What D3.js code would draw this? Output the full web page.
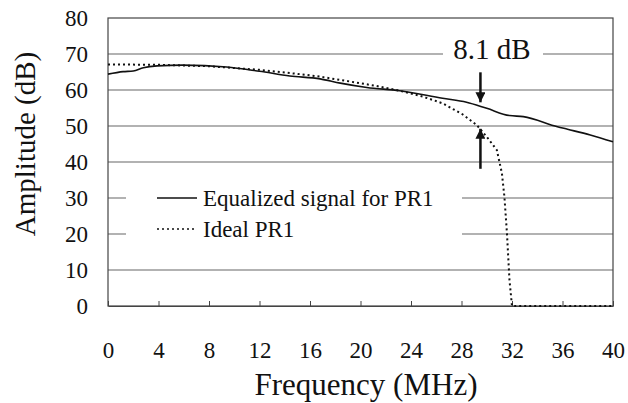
<!DOCTYPE html>
<html>
<head>
<meta charset="utf-8">
<script src="https://cdn.jsdelivr.net/npm/d3@7"></script>
<style>
  body { margin: 0; background: #fff; }
</style>
</head>
<body>
<div id="chart"></div>
<script>
// frequency (MHz) / amplitude (dB)
const eqFreq = [0, 1.2, 2, 2.8, 3.9, 5.9, 9.4, 12, 14.4, 16.8, 18.4, 20.5, 23.1, 26.5, 28.4, 30, 31.8, 32.9, 35.6, 36.4, 38.2, 40];
const eqAmp = [64.4, 65.1, 65.3, 66.2, 66.7, 66.9, 66.4, 65.2, 63.9, 63.1, 61.9, 60.7, 59.8, 57.7, 56.6, 54.9, 52.9, 52.6, 49.8, 49.1, 47.5, 45.6];

const idealFreq = [0, 4, 8, 12, 15.2, 16.8, 18.4, 21.3, 23.1, 25, 26.5, 28.1, 29.2, 30, 30.8, 31.2, 31.4, 31.6, 31.8, 32, 40];
const idealAmp = [67.1, 67, 66.6, 65.6, 64.4, 63.7, 62.8, 61.1, 59.8, 58.1, 56.3, 53.2, 50.3, 47.0, 43.3, 36.9, 30.3, 20.2, 7.2, 0, 0];

const xTicks = [0, 4, 8, 12, 16, 20, 24, 28, 32, 36, 40];
const yTicks = [0, 10, 20, 30, 40, 50, 60, 70, 80];
const legendLabels = ["Equalized signal for PR1", "Ideal PR1"];
const gapLabel = "8.1 dB";
const gapFreq = 29.5;
const gapTop = 56.3;
const gapBottom = 49.5;

const FONT = "Liberation Serif";

drawChart();

function drawChart () {
  const width = 628;
  const height = 403;
  const margin = { left: 108, right: 15, top: 18, bottom: 97 };

  const svg = d3.select("#chart")
    .append("svg")
      .attr("width", width)
      .attr("height", height)
      .attr("font-family", FONT);

  const x = d3.scaleLinear().domain([0, 40]).range([margin.left, width - margin.right]);
  const y = d3.scaleLinear().domain([0, 80]).range([height - margin.bottom, margin.top]);

  // gridlines
  svg.append("g")
    .selectAll("line")
    .data(yTicks.filter(d => d > 0 && d < 80))
    .enter().append("line")
      .attr("x1", x(0))
      .attr("x2", x(40))
      .attr("y1", d => y(d))
      .attr("y2", d => y(d))
      .attr("stroke", "#666")
      .attr("stroke-width", 1.2);

  // frame
  svg.append("rect")
    .attr("x", x(0))
    .attr("y", y(80))
    .attr("width", x(40) - x(0))
    .attr("height", y(0) - y(80))
    .attr("fill", "none")
    .attr("stroke", "#444")
    .attr("stroke-width", 1.2);

  // x axis with inward ticks
  const xAxis = svg.append("g")
    .attr("transform", `translate(0, ${y(0)})`)
    .call(d3.axisBottom(x).tickValues(xTicks).tickSizeInner(-5).tickSizeOuter(0).tickPadding(36));
  xAxis.attr("font-family", FONT);
  xAxis.select(".domain").attr("stroke", "#444").attr("stroke-width", 1.2);
  xAxis.selectAll(".tick line").attr("stroke", "#444");
  xAxis.selectAll("text").attr("font-size", 23).attr("font-family", FONT).attr("fill", "#111");

  const yAxis = svg.append("g")
    .attr("transform", `translate(${x(0)}, 0)`)
    .call(d3.axisLeft(y).tickValues(yTicks).tickSize(0).tickPadding(20));
  yAxis.attr("font-family", FONT);
  yAxis.select(".domain").remove();
  yAxis.selectAll("text").attr("font-size", 23).attr("font-family", FONT).attr("fill", "#111");

  // legend box (covers gridlines)
  svg.append("rect")
    .attr("x", 126)
    .attr("y", 182)
    .attr("width", 336)
    .attr("height", 66)
    .attr("fill", "#fff");

  const line = d3.line()
    .x(d => x(d[0]))
    .y(d => y(d[1]))
    .curve(d3.curveMonotoneX);

  svg.append("path")
    .datum(idealFreq.map((f, i) => [f, idealAmp[i]]))
    .attr("d", d3.line().x(d => x(d[0])).y(d => y(d[1])).curve(d3.curveLinear))
    .attr("fill", "none")
    .attr("stroke", "#111")
    .attr("stroke-width", 2)
    .attr("stroke-dasharray", "2,3");

  svg.append("path")
    .datum(eqFreq.map((f, i) => [f, eqAmp[i]]))
    .attr("d", line)
    .attr("fill", "none")
    .attr("stroke", "#111")
    .attr("stroke-width", 1.6);

  // legend entries
  const legend = svg.append("g");
  legendLabels.forEach((label, i) => {
    const ly = 198 + i * 31;
    legend.append("line")
      .attr("x1", 157).attr("x2", 197)
      .attr("y1", ly).attr("y2", ly)
      .attr("stroke", "#111")
      .attr("stroke-width", i === 0 ? 1.6 : 1.4)
      .attr("stroke-dasharray", i === 0 ? null : "2,3");
    legend.append("text")
      .attr("x", 203)
      .attr("y", ly + 8)
      .attr("font-size", 23)
      .attr("fill", "#111")
      .text(label);
  });

  // 8.1 dB annotation
  const ax = x(gapFreq);
  svg.append("rect")
    .attr("x", 443).attr("y", 34)
    .attr("width", 100).attr("height", 30)
    .attr("fill", "#fff");
  svg.append("text")
    .attr("x", 492)
    .attr("y", 59)
    .attr("text-anchor", "middle")
    .attr("font-size", 29)
    .attr("fill", "#111")
    .text(gapLabel);

  const defs = svg.append("defs");
  defs.append("marker")
    .attr("id", "head")
    .attr("viewBox", "0 0 10 10")
    .attr("refX", 10).attr("refY", 5)
    .attr("markerWidth", 4).attr("markerHeight", 4)
    .attr("markerUnits", "strokeWidth")
    .attr("orient", "auto")
    .append("path")
      .attr("d", "M0,0 L10,5 L0,10 z")
      .attr("fill", "#111");

  svg.append("line")
    .attr("x1", ax).attr("x2", ax)
    .attr("y1", y(gapTop) - 31).attr("y2", y(gapTop) - 1)
    .attr("stroke", "#111").attr("stroke-width", 2.5)
    .attr("marker-end", "url(#head)");
  svg.append("line")
    .attr("x1", ax).attr("x2", ax)
    .attr("y1", y(gapBottom) + 41).attr("y2", y(gapBottom) + 1)
    .attr("stroke", "#111").attr("stroke-width", 2.5)
    .attr("marker-end", "url(#head)");

  // axis titles
  svg.append("text")
    .attr("x", 366)
    .attr("y", 395)
    .attr("text-anchor", "middle")
    .attr("font-size", 31)
    .attr("fill", "#111")
    .text("Frequency (MHz)");

  svg.append("text")
    .attr("transform", `translate(35, 144) rotate(-90)`)
    .attr("text-anchor", "middle")
    .attr("font-size", 29)
    .attr("fill", "#111")
    .text("Amplitude (dB)");
}
</script>
</body>
</html>
